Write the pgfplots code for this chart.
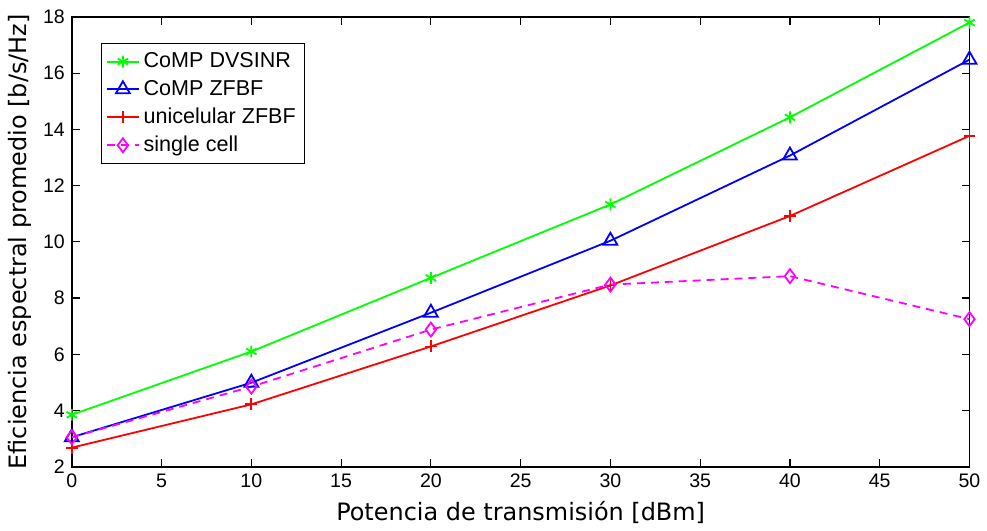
\documentclass[border=0pt]{standalone}
\usepackage{fontspec}
\setmainfont{Liberation Sans}
\newfontfamily\labelfont{DejaVu Sans}
\usepackage{pgfplots}
\pgfplotsset{compat=1.18}
\definecolor{mgreen}{rgb}{0,1,0}
\definecolor{mblue}{rgb}{0,0,1}
\definecolor{mred}{rgb}{1,0,0}
\definecolor{mmag}{rgb}{1,0,1}
\begin{document}
\begin{tikzpicture}
\begin{axis}[
  scale only axis,
  width=450pt, height=225.5pt,
  xmin=0, xmax=50, ymin=2, ymax=18,
  xtick={0,5,...,50}, ytick={2,4,...,18},
  tick align=inside,
  major tick length=4pt,
  tick style={black, line width=0.6pt},
  axis line style={black, line width=0.8pt},
  /pgf/number format/assume math mode=true,
  ticklabel style={font=\fontsize{9.8}{11}\selectfont},
  xlabel={\labelfont\fontsize{12}{14}\selectfont Potencia de transmisión [dBm]},
  ylabel={\labelfont\fontsize{12}{14}\selectfont Eficiencia espectral promedio [b/s/Hz]},
  xlabel style={yshift=0pt},
  ylabel style={yshift=-1pt},
  legend style={at={(0.032,0.942)}, anchor=north west, draw=black, line width=0.6pt,
    font=\fontsize{10.8}{12}\selectfont, row sep=0.8pt, inner sep=2.5pt},
  legend cell align=left,
  legend image code/.code={
    \draw[line width=0.9pt, mark repeat=2,mark phase=2] plot coordinates {(0cm,0cm) (0.28cm,0cm) (0.56cm,0cm)};
  },
]
\addplot[color=mgreen, line width=0.9pt, mark=asterisk, mark size=3pt, mark options={solid}]
  coordinates {(0,3.85) (10,6.1) (20,8.72) (30,11.33) (40,14.43) (50,17.8)};
\addlegendentry{CoMP DVSINR}
\addplot[color=mblue, line width=0.9pt, mark=triangle, mark size=4pt, mark options={solid}]
  coordinates {(0,3.05) (10,4.99) (20,7.48) (30,10.04) (40,13.07) (50,16.48)};
\addlegendentry{CoMP ZFBF}
\addplot[color=mred, line width=0.9pt, mark=+, mark size=3pt, mark options={solid}]
  coordinates {(0,2.68) (10,4.22) (20,6.28) (30,8.45) (40,10.92) (50,13.77)};
\addlegendentry{unicelular ZFBF}
\addplot[color=mmag, line width=0.9pt, dash pattern=on 4pt off 3pt, mark=diamond, mark size=3.5pt, mark options={solid}]
  coordinates {(0,3.05) (10,4.85) (20,6.88) (30,8.48) (40,8.78) (50,7.25)};
\addlegendentry{single cell}
\end{axis}
\path (current axis.north west) ++(0,8.5pt) coordinate (tl);
\path (tl) (current axis.south west) ++(-36pt,-30pt) coordinate (bl);
\end{tikzpicture}
\end{document}
